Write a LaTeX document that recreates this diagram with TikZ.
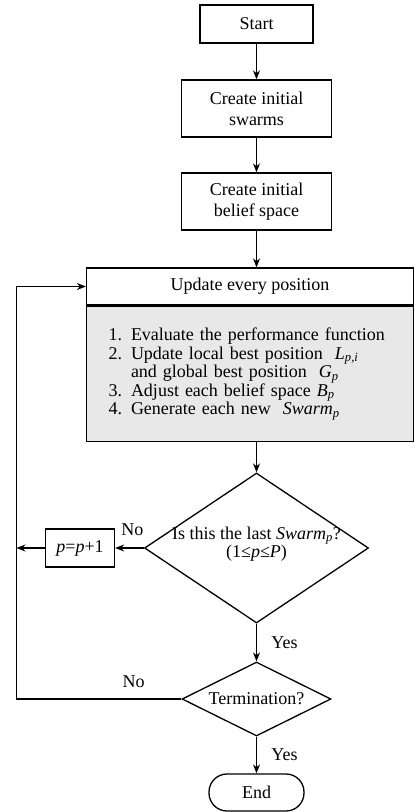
\documentclass[tikz,border=0pt]{standalone}
\usepackage{amsmath}
\usepackage{fontspec}
\setmainfont{Liberation Serif}
\usepackage{xcolor}
\usepackage{tikz}
\usetikzlibrary{shapes.geometric, arrows.meta, positioning, calc}
\definecolor{listgray}{gray}{0.91}
\tikzset{
    block/.style={
        rectangle,
        draw=black,
        line width=1.3pt,
        align=center,
        inner sep=0pt,
    },
    listbox/.style={
        rectangle,
        draw=black,
        fill=listgray,
        line width=1.3pt,
        align=left,
        inner xsep=22pt,
        text width=283pt,
        minimum height=135pt,
    },
    decision/.style={
        diamond,
        draw=black,
        line width=1.3pt,
        inner sep=0pt,
    },
}

\begin{document}
\begin{tikzpicture}[x=1pt, y=-1pt, ->, >={Stealth[length=9pt,width=7pt]}, on grid, line width=1.3pt, font=\fontsize{18}{21}\selectfont]
      \useasboundingbox (0,0) rectangle (416,812);

      \node[block, minimum width=113pt, minimum height=38pt] (start) at (256.5,24) {Start};

      \node[block, minimum width=150pt, minimum height=57pt, below=84.5pt of start] (swarms) {Create initial\\swarms};

      \node[block, minimum width=150pt, minimum height=57pt, below=93pt of swarms] (belief) {Create initial\\belief space};

      \node[block, minimum width=327pt, minimum height=37pt] (upd) at ($(belief)+(-6.5,85)$) {Update every position};

      \node[listbox, anchor=north, font=\fontsize{18}{18.5}\selectfont] (steps) at (upd.south) {1. Evaluate the performance function\\
        2. Update local best position~~$\textit{L}_{\textit{p,i}}$\\
        \phantom{2. }and global best position~~$\textit{G}_{\textit{p}}$\\
        3. Adjust each belief space~$\textit{B}_{\textit{p}}$\\
        4. Generate each new~~$\textit{Swarm}_{\textit{p}}$};

      \node[decision, minimum width=224pt, minimum height=150pt, below=346.5pt of belief] (last) {};
      \node[align=center, font=\fontsize{18}{18}\selectfont] (lastq) at ($(last)+(0,-4)$) {Is this the last $\textit{Swarm}_{\textit{p}}$?\\(1≤$\textit{p}$≤$\textit{P}$)};

      \node[block, minimum width=69pt, minimum height=38pt, left=176.5pt of last] (inc) {$\textit{p}$=$\textit{p}$+1};

      \node[decision, minimum width=149pt, minimum height=74pt, below=151pt of last] (term) {};
      \node (termq) at (term) {Termination?};

      \node[block, rounded corners=18pt, minimum width=95pt, minimum height=37pt, below=93.5pt of term] (finish) {End};

      \coordinate[left=240pt of term] (loopc);

      \draw (start) -- (swarms);
      \draw (swarms) -- (belief);
      \draw (belief.south) -- (belief.south |- upd.north);
      \draw (steps.south -| last.north) -- (last.north);
      \draw (last.west) -- node[pos=0.4, yshift=18pt, -]{No} (inc.east);
      \draw (inc.west) -- (inc.west -| loopc);
      \draw (last.south) -- node[xshift=28pt, -]{Yes} (term.north);
      \draw (term.south) -- node[xshift=28pt, -]{Yes} (finish.north);
      \draw (term.west) -- node[pos=0.29, yshift=17pt, -]{No} (loopc) |- (upd.west);
    \end{tikzpicture}
\end{document}
